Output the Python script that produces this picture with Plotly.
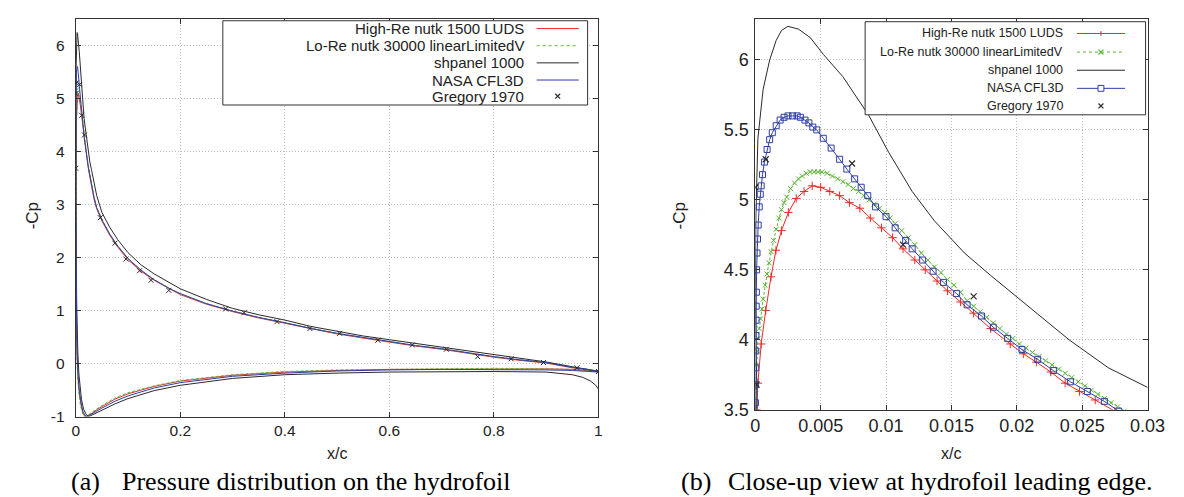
import plotly.graph_objects as go

W, H = 1184, 497

# ---------------- data (x/c, -Cp) ----------------
# lower surface listed from leading edge to trailing edge
red_lower = [(0.0, 3.20), (0.0002, 2.40), (0.0005, 1.70), (0.001, 1.10), (0.002, 0.35), (0.003, -0.02),
             (0.004, -0.22), (0.005, -0.37), (0.007, -0.58), (0.009, -0.73), (0.011, -0.83), (0.014, -0.94),
             (0.017, -0.99), (0.02, -1.00), (0.025, -0.98), (0.032, -0.93), (0.04, -0.87), (0.05, -0.81),
             (0.075, -0.67), (0.1, -0.57), (0.15, -0.43), (0.2, -0.33), (0.3, -0.22), (0.4, -0.16),
             (0.5, -0.13), (0.6, -0.11), (0.7, -0.10), (0.8, -0.10), (0.9, -0.10), (0.95, -0.11), (1.0, -0.15)]
red_upper = [(0.00008, 3.50), (0.0002, 3.69), (0.00045, 3.97), (0.0008, 4.21), (0.0012, 4.45), (0.00158, 4.64),
             (0.002, 4.78), (0.00253, 4.91), (0.00313, 5.01), (0.00373, 5.06), (0.00435, 5.10), (0.005, 5.09),
             (0.0057, 5.06), (0.00645, 5.03), (0.0072, 4.98), (0.008, 4.94), (0.0088, 4.87), (0.00965, 4.80),
             (0.0105, 4.73), (0.0113, 4.65), (0.0122, 4.57), (0.013, 4.50), (0.0139, 4.42), (0.0147, 4.35),
             (0.0157, 4.27), (0.0167, 4.19), (0.018, 4.08), (0.0195, 3.97), (0.0205, 3.90), (0.0215, 3.84),
             (0.0226, 3.77), (0.0237, 3.69), (0.0248, 3.63), (0.026, 3.57), (0.0275, 3.49), (0.03, 3.36),
             (0.035, 3.10), (0.04, 2.92), (0.05, 2.69), (0.065, 2.42), (0.08, 2.20), (0.1, 1.96), (0.125, 1.74),
             (0.15, 1.57), (0.18, 1.40), (0.2, 1.30), (0.25, 1.12), (0.3, 0.98), (0.35, 0.86), (0.4, 0.76),
             (0.45, 0.65), (0.5, 0.56), (0.55, 0.48), (0.6, 0.40), (0.65, 0.33), (0.7, 0.27), (0.75, 0.19),
             (0.8, 0.12), (0.85, 0.06), (0.9, 0.01), (0.95, -0.08), (0.98, -0.12), (1.0, -0.15)]

green_lower = [(0.0, 3.30), (0.0002, 2.30), (0.0005, 1.60), (0.001, 1.00), (0.002, 0.25), (0.003, -0.10),
               (0.004, -0.30), (0.005, -0.45), (0.007, -0.65), (0.009, -0.79), (0.011, -0.88), (0.014, -0.97),
               (0.016, -1.00), (0.02, -0.99), (0.025, -0.96), (0.032, -0.91), (0.04, -0.85), (0.05, -0.79),
               (0.075, -0.65), (0.1, -0.55), (0.15, -0.42), (0.2, -0.32), (0.3, -0.21), (0.4, -0.15),
               (0.5, -0.12), (0.6, -0.11), (0.7, -0.10), (0.8, -0.09), (0.9, -0.10), (0.95, -0.11), (1.0, -0.14)]
green_upper = [(0.00002, 3.50), (0.00005, 3.65), (0.0001, 3.82), (0.00015, 3.92), (0.00022, 4.01), (0.0003, 4.08),
               (0.0004, 4.15), (0.0005, 4.22), (0.0006, 4.29), (0.00075, 4.39), (0.0009, 4.47), (0.00105, 4.55),
               (0.0012, 4.63), (0.0014, 4.71), (0.0016, 4.79), (0.0018, 4.87), (0.002, 4.93), (0.0022, 4.98),
               (0.0024, 5.02), (0.0027, 5.08), (0.003, 5.12), (0.0033, 5.15), (0.0036, 5.17), (0.0039, 5.19),
               (0.0042, 5.20), (0.0045, 5.20), (0.0048, 5.20), (0.0051, 5.20), (0.0055, 5.19), (0.0059, 5.17),
               (0.0063, 5.15), (0.0067, 5.13), (0.0071, 5.11), (0.0075, 5.08), (0.0079, 5.06), (0.0083, 5.03),
               (0.0087, 5.00), (0.0091, 4.97), (0.0095, 4.94), (0.0099, 4.91), (0.0103, 4.87), (0.0107, 4.83),
               (0.0112, 4.78), (0.0117, 4.73), (0.0122, 4.68), (0.0127, 4.62), (0.0132, 4.57), (0.0137, 4.52),
               (0.0142, 4.48), (0.0147, 4.43), (0.0152, 4.39), (0.0157, 4.34), (0.0162, 4.28), (0.0167, 4.24),
               (0.0172, 4.20), (0.0177, 4.16), (0.0182, 4.12), (0.0187, 4.08), (0.0192, 4.04), (0.0197, 4.01),
               (0.0202, 3.97), (0.0207, 3.94), (0.0212, 3.91), (0.0217, 3.88), (0.0222, 3.85), (0.0227, 3.82),
               (0.0232, 3.79), (0.0237, 3.76), (0.0242, 3.73), (0.0247, 3.70), (0.0252, 3.67), (0.0257, 3.64),
               (0.0262, 3.61), (0.0267, 3.58), (0.0272, 3.55), (0.0277, 3.52), (0.0282, 3.49), (0.03, 3.39),
               (0.035, 3.14), (0.04, 2.95), (0.05, 2.72), (0.065, 2.44), (0.08, 2.22), (0.1, 1.98), (0.125, 1.76),
               (0.15, 1.58), (0.18, 1.41), (0.2, 1.31), (0.25, 1.13), (0.3, 0.99), (0.35, 0.87), (0.4, 0.77),
               (0.45, 0.66), (0.5, 0.57), (0.55, 0.49), (0.6, 0.41), (0.65, 0.34), (0.7, 0.28), (0.75, 0.20),
               (0.8, 0.13), (0.85, 0.07), (0.9, 0.02), (0.95, -0.07), (0.98, -0.11), (1.0, -0.14)]

black_lower = [(0.0, 4.30), (0.0002, 3.20), (0.0005, 2.50), (0.001, 1.80), (0.002, 1.00), (0.003, 0.55),
               (0.004, 0.20), (0.006, -0.20), (0.008, -0.45), (0.011, -0.68), (0.015, -0.86), (0.02, -0.96),
               (0.025, -1.00), (0.03, -0.99), (0.04, -0.94), (0.05, -0.88), (0.075, -0.76), (0.1, -0.66),
               (0.15, -0.51), (0.2, -0.41), (0.3, -0.28), (0.4, -0.21), (0.5, -0.18), (0.6, -0.16), (0.7, -0.15),
               (0.8, -0.15), (0.9, -0.16), (0.95, -0.21), (0.97, -0.26), (0.985, -0.33), (0.995, -0.41), (1.0, -0.48)]
black_upper = [(0.00005, 4.90), (0.0002, 5.44), (0.0006, 5.79), (0.0011, 6.00), (0.0016, 6.14), (0.002, 6.21),
               (0.0025, 6.24), (0.0033, 6.22), (0.0042, 6.16), (0.0052, 6.04), (0.0067, 5.88), (0.0087, 5.60),
               (0.0102, 5.34), (0.012, 5.06), (0.0137, 4.85), (0.016, 4.62), (0.018, 4.46), (0.0205, 4.27),
               (0.024, 4.00), (0.027, 3.80), (0.03, 3.66), (0.035, 3.40), (0.04, 3.17), (0.05, 2.85), (0.065, 2.57),
               (0.08, 2.34), (0.1, 2.09), (0.125, 1.86), (0.15, 1.69), (0.2, 1.41), (0.25, 1.21), (0.3, 1.04),
               (0.35, 0.92), (0.4, 0.82), (0.45, 0.70), (0.5, 0.61), (0.55, 0.52), (0.6, 0.45), (0.65, 0.38),
               (0.7, 0.32), (0.75, 0.25), (0.8, 0.18), (0.85, 0.11), (0.9, 0.03), (0.95, -0.06), (0.98, -0.11),
               (1.0, -0.16)]

blue_lower = [(0.0, 3.00), (0.0002, 2.50), (0.0005, 1.90), (0.001, 1.30), (0.002, 0.50), (0.003, 0.10),
              (0.004, -0.15), (0.005, -0.30), (0.007, -0.52), (0.009, -0.68), (0.011, -0.79), (0.014, -0.91),
              (0.018, -0.98), (0.022, -1.00), (0.027, -0.98), (0.034, -0.94), (0.04, -0.90), (0.05, -0.84),
              (0.075, -0.71), (0.1, -0.61), (0.15, -0.46), (0.2, -0.36), (0.3, -0.24), (0.4, -0.18), (0.5, -0.14),
              (0.6, -0.12), (0.7, -0.11), (0.8, -0.11), (0.9, -0.12), (0.95, -0.13), (1.0, -0.16)]
blue_upper = [(0.00001, 3.55), (0.00002, 3.68), (0.00003, 3.80), (0.00004, 3.92), (0.00005, 4.03), (0.00006, 4.14),
              (0.00007, 4.24), (0.00008, 4.34), (0.0001, 4.50), (0.00013, 4.62), (0.00017, 4.72), (0.00022, 4.82),
              (0.0003, 4.95), (0.00038, 5.04), (0.00045, 5.10), (0.00055, 5.18), (0.0007, 5.27), (0.0009, 5.36),
              (0.0011, 5.43), (0.0013, 5.48), (0.0016, 5.53), (0.0019, 5.57), (0.0022, 5.59), (0.0025, 5.60),
              (0.00285, 5.60), (0.0032, 5.60), (0.00345, 5.59), (0.0038, 5.57), (0.0041, 5.55), (0.0044, 5.52),
              (0.0047, 5.50), (0.0052, 5.44), (0.0058, 5.37), (0.00645, 5.29), (0.0070, 5.22), (0.0076, 5.15),
              (0.0081, 5.09), (0.0086, 5.03), (0.0092, 4.95), (0.0100, 4.88), (0.0107, 4.80), (0.0115, 4.71),
              (0.0120, 4.65), (0.0128, 4.57), (0.0136, 4.49), (0.0144, 4.41), (0.0154, 4.33), (0.0162, 4.25),
              (0.0173, 4.17), (0.0182, 4.09), (0.0193, 4.01), (0.0204, 3.93), (0.0216, 3.86), (0.0228, 3.78),
              (0.0241, 3.70), (0.0254, 3.63), (0.0267, 3.56), (0.0278, 3.49), (0.03, 3.38), (0.035, 3.13),
              (0.04, 2.94), (0.05, 2.71), (0.065, 2.44), (0.08, 2.22), (0.1, 1.98), (0.125, 1.76), (0.15, 1.58),
              (0.18, 1.41), (0.2, 1.32), (0.25, 1.13), (0.3, 0.99), (0.35, 0.87), (0.4, 0.77), (0.45, 0.66),
              (0.5, 0.57), (0.55, 0.49), (0.6, 0.41), (0.65, 0.34), (0.7, 0.28), (0.75, 0.20), (0.8, 0.13),
              (0.85, 0.07), (0.9, 0.02), (0.95, -0.07), (0.98, -0.11), (1.0, -0.14)]

gregory_x = [0.0, 0.0001, 0.0008, 0.0074, 0.0113, 0.0167, 0.047, 0.075, 0.096, 0.122, 0.144, 0.178, 0.287,
             0.322, 0.385, 0.448, 0.505, 0.578, 0.644, 0.709, 0.769, 0.833, 0.895, 0.959, 1.0]
gregory_y = [5.09, 3.68, 5.29, 5.26, 4.68, 4.31, 2.75, 2.27, 1.97, 1.75, 1.57, 1.38, 1.03,
             0.96, 0.79, 0.66, 0.57, 0.44, 0.35, 0.27, 0.13, 0.09, 0.02, -0.08, -0.15]

series_names = ["High-Re nutk 1500 LUDS", "Lo-Re nutk 30000 linearLimitedV", "shpanel 1000",
                "NASA CFL3D", "Gregory 1970"]

xa_ticks = [0, 0.2, 0.4, 0.6, 0.8, 1]
xa_labels = ["0", "0.2", "0.4", "0.6", "0.8", "1"]
ya_ticks = [-1, 0, 1, 2, 3, 4, 5, 6]
ya_labels = ["-1", "0", "1", "2", "3", "4", "5", "6"]
xb_ticks = [0, 0.005, 0.01, 0.015, 0.02, 0.025, 0.03]
xb_labels = ["0", "0.005", "0.01", "0.015", "0.02", "0.025", "0.03"]
yb_ticks = [3.5, 4, 4.5, 5, 5.5, 6]
yb_labels = ["3.5", "4", "4.5", "5", "5.5", "6"]

# ---------------- styles ----------------
RED, GREEN, BLACK, BLUE = "#ec2a25", "#5ab536", "#2a2a2a", "#2f3fa5"
FRAME = "#333333"
SANS = "Liberation Sans"
SERIF = "Liberation Serif"


def path(lower, upper):
    pts = lower[::-1] + upper
    return [p[0] for p in pts], [p[1] for p in pts]


curves = [
    (path(red_lower, red_upper), RED, "solid", dict(symbol="cross-thin-open", size=6,
                                                    line=dict(width=1, color=RED), color=RED)),
    (path(green_lower, green_upper), GREEN, "3px,2px", dict(symbol="x-thin-open", size=5,
                                                            line=dict(width=1, color=GREEN), color=GREEN)),
    (path(black_lower, black_upper), BLACK, "solid", None),
    (path(blue_lower, blue_upper), BLUE, "solid", dict(symbol="square-open", size=6,
                                                       line=dict(width=1, color=BLUE), color=BLUE)),
]

fig = go.Figure()
for (xs, ys), col, dash, mk in curves:
    fig.add_trace(go.Scatter(x=xs, y=ys, mode="lines", line=dict(color=col, width=1, dash=dash),
                             xaxis="x", yaxis="y", showlegend=False, hoverinfo="skip"))
fig.add_trace(go.Scatter(x=gregory_x, y=gregory_y, mode="markers", xaxis="x", yaxis="y", showlegend=False,
                         marker=dict(symbol="x-thin-open", size=5, color=BLACK, line=dict(width=1, color=BLACK))))
for (xs, ys), col, dash, mk in curves:
    if mk is None:
        fig.add_trace(go.Scatter(x=xs, y=ys, mode="lines", line=dict(color=col, width=1),
                                 xaxis="x2", yaxis="y2", showlegend=False))
    else:
        fig.add_trace(go.Scatter(x=xs, y=ys, mode="lines+markers", line=dict(color=col, width=1, dash=dash),
                                 marker=mk, xaxis="x2", yaxis="y2", showlegend=False))
fig.add_trace(go.Scatter(x=gregory_x, y=gregory_y, mode="markers", xaxis="x2", yaxis="y2", showlegend=False,
                         marker=dict(symbol="x-thin-open", size=6, color=BLACK, line=dict(width=1.2, color=BLACK))))


def ax(domain, rng, tv, tt, anchor, size, standoff=None):
    d = dict(domain=domain, range=rng, tickvals=tv, ticktext=tt, anchor=anchor,
             ticks="inside", ticklen=5, tickcolor=FRAME, showline=True, linecolor=FRAME, linewidth=1,
             mirror="allticks", showgrid=True, gridcolor="#bdbdbd", griddash="1px,2px", gridwidth=1,
             zeroline=False, tickfont=dict(family=SANS, size=size, color="#222222"))
    if standoff is not None:
        d["ticklabelstandoff"] = standoff
    return d


def px(x):
    return x / W


def py(y):
    return 1 - y / H


fig.update_layout(
    width=W, height=H, margin=dict(l=0, r=0, t=0, b=0),
    paper_bgcolor="white", plot_bgcolor="white",
    xaxis=ax([px(64), px(597)], [0, 1], xa_ticks, xa_labels, "y", 15.5),
    yaxis=ax([py(417), py(11)], [-1, 6.5], ya_ticks, ya_labels, "x", 15.5, standoff=7),
    xaxis2=ax([px(757), px(1157)], [0, 0.03], xb_ticks, xb_labels, "y2", 18),
    yaxis2=ax([py(410), py(11)], [3.5, 6.294], yb_ticks, yb_labels, "x2", 18, standoff=2),
)

shapes = []
annotations = []


def legend(box, text_right, line_x0, line_x1, rows, fsize, with_markers):
    x0, y0, x1, y1 = box
    shapes.append(dict(type="rect", xref="paper", yref="paper", x0=px(x0), x1=px(x1), y0=py(y1), y1=py(y0),
                       line=dict(color=FRAME, width=1), fillcolor="white", layer="above"))
    styles = [(RED, "solid", "plus"), (GREEN, "dot", "x"), (BLACK, "solid", None), (BLUE, "solid", "square"),
              (BLACK, None, "x")]
    cx = (line_x0 + line_x1) / 2
    for name, ry, (col, dash, mk) in zip(series_names, rows, styles):
        annotations.append(dict(text=name, x=px(text_right), y=py(ry), xref="paper", yref="paper",
                                xanchor="right", yanchor="middle", showarrow=False,
                                font=dict(family=SANS, size=fsize, color="#222222")))
        if dash is not None:
            shapes.append(dict(type="line", xref="paper", yref="paper", x0=px(line_x0), x1=px(line_x1),
                               y0=py(ry), y1=py(ry), line=dict(color=col, width=1, dash=dash), layer="above"))
        if mk is None or (not with_markers and dash is not None):
            continue
        s = 2.5
        if mk == "plus":
            shapes.append(dict(type="line", xref="paper", yref="paper", x0=px(cx), x1=px(cx),
                               y0=py(ry - s), y1=py(ry + s), line=dict(color=col, width=1), layer="above"))
        elif mk == "x":
            for d in (1, -1):
                shapes.append(dict(type="line", xref="paper", yref="paper", x0=px(cx - s), x1=px(cx + s),
                                   y0=py(ry - d * s), y1=py(ry + d * s), line=dict(color=col, width=1.2),
                                   layer="above"))
        elif mk == "square":
            shapes.append(dict(type="rect", xref="paper", yref="paper", x0=px(cx - 3), x1=px(cx + 3),
                               y0=py(ry + 3), y1=py(ry - 3), line=dict(color=col, width=1),
                               fillcolor="white", layer="above"))


legend((214, 13, 586, 99), 523, 534, 577, [21, 38.5, 56, 73.5, 90], 15, False)
legend((869, 14, 1155, 109), 1073, 1085, 1134, [26, 45, 63.5, 82, 100], 12.5, True)


def label(text, x, y, size, family=SANS, angle=0, xanchor="center", color="#222222"):
    annotations.append(dict(text=text, x=px(x), y=py(y), xref="paper", yref="paper", xanchor=xanchor,
                            yanchor="middle", showarrow=False, textangle=angle,
                            font=dict(family=family, size=size, color=color)))


label("-Cp", 20, 212, 17, angle=-90)
label("-Cp", 680, 212, 17, angle=-90)
label("x/c", 330, 455, 16)
label("x/c", 957, 455, 16)
label("(a)", 57, 483, 26, family=SERIF, xanchor="left", color="black")
label("Pressure distribution on the hydrofoil", 109, 483, 26, family=SERIF, xanchor="left", color="black")
label("(b)", 679, 483, 26, family=SERIF, xanchor="left", color="black")
label("Close-up view at hydrofoil leading edge.", 727, 483, 26, family=SERIF, xanchor="left", color="black")

fig.update_layout(shapes=shapes, annotations=annotations)
fig.write_html("out.html")
